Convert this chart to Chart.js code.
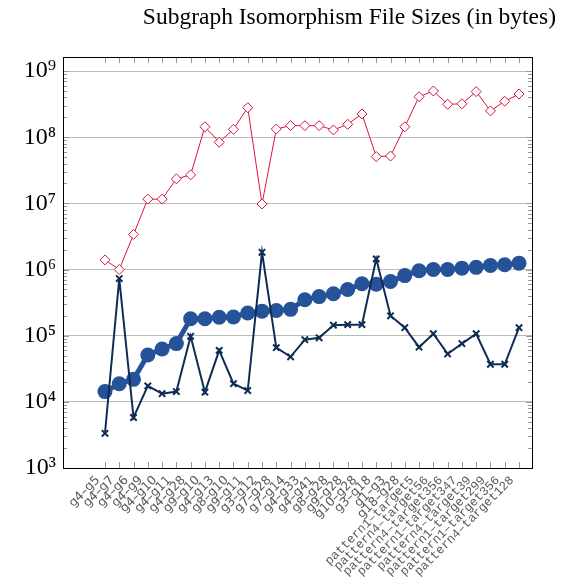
<!DOCTYPE html>
<html>
<head>
<meta charset="utf-8">
<script src="https://cdn.jsdelivr.net/npm/chart.js@4"></script>
<style>
  body { margin: 0; background: #fff; }
</style>
</head>
<body>
<canvas id="chart" width="566" height="585"></canvas>
<script>
const labels = [
  'g4–g5', 'g4–g7', 'g4–g6', 'g4–g9', 'g4–g10', 'g4–g11', 'g4–g28', 'g9–g10',
  'g4–g13', 'g8–g10', 'g9–g11', 'g3–g12', 'g7–g28', 'g7–g14', 'g4–g33', 'g4–g41',
  'g8–g28', 'g9–g28', 'g10–g28', 'g3–g18', 'g1–g3', 'g18–g28',
  'pattern1–target5', 'pattern4–target56', 'pattern4–target356', 'pattern1–target347',
  'pattern4–target39', 'pattern1–target299', 'pattern1–target356', 'pattern4–target128'
];
const diamondSizes = [
  1.4e6, 1.0e6, 3.4e6, 1.16e7, 1.16e7, 2.35e7, 2.7e7, 1.44e8, 8.4e7, 1.32e8,
  2.8e8, 9.8e6, 1.33e8, 1.5e8, 1.5e8, 1.5e8, 1.29e8, 1.57e8, 2.25e8, 5.1e7,
  5.2e7, 1.44e8, 4.1e8, 5.0e8, 3.15e8, 3.2e8, 4.9e8, 2.5e8, 3.5e8, 4.5e8
];
const circleSizes = [
  1.43e4, 1.88e4, 2.19e4, 5.1e4, 6.3e4, 7.6e4, 1.8e5, 1.8e5, 1.9e5, 1.92e5,
  2.2e5, 2.35e5, 2.4e5, 2.5e5, 3.5e5, 3.9e5, 4.3e5, 5.0e5, 6.1e5, 6.0e5,
  6.6e5, 8.1e5, 9.6e5, 1.0e6, 1.0e6, 1.05e6, 1.08e6, 1.15e6, 1.18e6, 1.25e6
];
const crossSizes = [
  3.35e3, 7.3e5, 5.8e3, 1.74e4, 1.33e4, 1.43e4, 9.8e4, 1.4e4, 6.0e4, 1.88e4,
  1.48e4, 1.82e6, 6.6e4, 4.8e4, 8.7e4, 9.3e4, 1.44e5, 1.47e5, 1.47e5, 1.45e6,
  2.0e5, 1.32e5, 6.7e4, 1.07e5, 5.3e4, 7.6e4, 1.07e5, 3.7e4, 3.7e4, 1.32e5
];
const decades = [3, 4, 5, 6, 7, 8, 9];
const sup = { '3': '³', '4': '⁴', '5': '⁵', '6': '⁶', '7': '⁷', '8': '⁸', '9': '⁹' };

const toPoints = (arr) => arr.map((v, i) => ({ x: i, y: v }));

// pgfplots-like frame with inner tick marks
const axisFrame = {
  id: 'axisFrame',
  beforeDatasetsDraw(chart) {
    const { ctx, chartArea: a, scales } = chart;
    ctx.save();
    ctx.strokeStyle = '#999';
    ctx.lineWidth = 1;
    labels.forEach((_, i) => {
      const x = Math.round(scales.x.getPixelForValue(i)) + 0.5;
      ctx.beginPath();
      ctx.moveTo(x, a.bottom); ctx.lineTo(x, a.bottom - 6);
      ctx.moveTo(x, a.top); ctx.lineTo(x, a.top + 6);
      ctx.stroke();
    });
    decades.forEach((e) => {
      for (let m = 1; m < 10; m++) {
        const v = m * Math.pow(10, e);
        if (v > scales.y.max) continue;
        const y = Math.round(scales.y.getPixelForValue(v)) + 0.5;
        const len = m === 1 ? 6 : 4;
        ctx.beginPath();
        ctx.moveTo(a.left, y); ctx.lineTo(a.left + len, y);
        ctx.moveTo(a.right, y); ctx.lineTo(a.right - len, y);
        ctx.stroke();
      }
    });
    ctx.strokeStyle = '#000';
    ctx.strokeRect(Math.round(a.left) + 0.5, Math.round(a.top) + 0.5,
      Math.round(a.right - a.left), Math.round(a.bottom - a.top));
    ctx.restore();
  }
};

const ctx = document.getElementById('chart').getContext('2d');
const chart = new Chart(ctx, {
  type: 'line',
  data: {
    datasets: [
      {
        label: 'diamonds',
        data: toPoints(diamondSizes),
        borderColor: '#dc143c',
        borderWidth: 1,
        pointStyle: 'rectRot',
        pointRadius: 5,
        pointBorderWidth: 1,
        pointBackgroundColor: '#fff',
        pointBorderColor: '#dc143c',
        order: 0
      },
      {
        label: 'crosses',
        data: toPoints(crossSizes),
        borderColor: '#0e2c54',
        borderWidth: 2,
        pointStyle: 'crossRot',
        pointRadius: 4.5,
        pointBorderWidth: 2,
        pointBorderColor: '#0e2c54',
        order: 1
      },
      {
        label: 'circles',
        data: toPoints(circleSizes),
        borderColor: '#26529a',
        borderWidth: 5,
        pointStyle: 'circle',
        pointRadius: 7.5,
        pointBorderWidth: 0,
        pointBackgroundColor: '#26529a',
        order: 2
      }
    ]
  },
  options: {
    responsive: false,
    animation: false,
    devicePixelRatio: 1,
    layout: { padding: { left: 0, right: 10, top: 0, bottom: 0 } },
    plugins: {
      legend: { display: false },
      tooltip: { enabled: false },
      title: {
        display: true,
        text: 'Subgraph Isomorphism File Sizes (in bytes)',
        align: 'end',
        color: '#000',
        font: { family: 'Liberation Serif', size: 23.5, weight: 'normal' },
        padding: { top: 4, bottom: 25 }
      }
    },
    scales: {
      x: {
        type: 'linear',
        min: -2.94,
        max: 29.91,
        afterBuildTicks: (s) => { s.ticks = labels.map((_, i) => ({ value: i })); },
        afterFit: (s) => { s.height = 117; },
        grid: { display: false, drawTicks: false },
        border: { display: false },
        ticks: {
          autoSkip: false,
          minRotation: 45,
          maxRotation: 45,
          padding: 5,
          labelOffset: -7,
          color: '#5a5a5a',
          font: (c) => labels[c.index] && labels[c.index].startsWith('pattern')
            ? { family: 'Liberation Mono', size: 12.5 }
            : { family: 'DejaVu Sans', size: 12.5 },
          callback: (v) => labels[v]
        }
      },
      y: {
        type: 'logarithmic',
        min: 1e3,
        max: Math.pow(10, 9.21),
        afterBuildTicks: (s) => { s.ticks = decades.map((e) => ({ value: Math.pow(10, e) })); },
        afterFit: (s) => { s.width = 63; },
        grid: { color: '#bbb', lineWidth: 1, drawTicks: false },
        border: { display: false },
        ticks: {
          padding: 7,
          color: '#000',
          font: { family: 'Liberation Serif', size: 24 },
          callback: (v) => '10' + sup[String(Math.round(Math.log10(v)))]
        }
      },
      y2: {
        type: 'linear',
        position: 'right',
        min: 0,
        max: 1,
        afterFit: (s) => { s.width = 24; },
        grid: { display: false, drawTicks: false },
        border: { display: false },
        ticks: { display: false }
      }
    }
  },
  plugins: [axisFrame]
});
</script>
</body>
</html>
